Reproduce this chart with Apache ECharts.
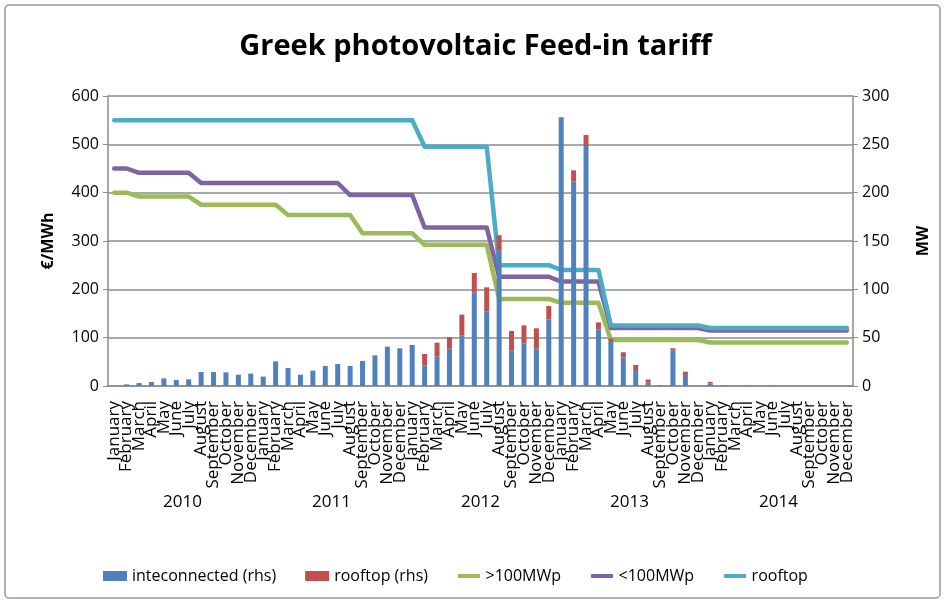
<!DOCTYPE html>
<html>
<head>
<meta charset="utf-8">
<script src="https://cdn.jsdelivr.net/npm/echarts@6/dist/echarts.min.js"></script>
<style>
html, body { margin: 0; padding: 0; background: #fff; }
#chart { width: 951px; height: 605px; }
</style>
</head>
<body>
<div id="chart"></div>
<script>
// categories
const months = ['January', 'February', 'March', 'April', 'May', 'June', 'July',
    'August', 'September', 'October', 'November', 'December'];
const years = ['2010', '2011', '2012', '2013', '2014'];

// MW (right axis), Jan 2010 .. Dec 2014
const interconnected = [
    0, 1.7, 3.1, 4.1, 7.9, 6.2, 6.9, 14.5, 14.5, 14.1, 11.7, 12.8,
    9.7, 25.5, 18.6, 11.7, 15.9, 20.7, 22.8, 20.7, 25.9, 31.7, 40.7, 39,
    42.4, 21.4, 30.3, 39, 52.4, 96.9, 76.9, 140, 36.6, 44.1, 39, 69,
    278, 211.4, 248.3, 58.6, 46, 29.7, 16.6, 3.4, 0, 36.6, 11.4, 0,
    2.8, 0.6, 0, 0, 0, 0, 0, 0, 0, 0, 0, 0
];
const rooftopMW = [
    0, 0, 0, 0, 0, 0, 0, 0, 0, 0, 0, 0,
    0, 0, 0, 0, 0, 0, 0, 0, 0, 0, 0, 0,
    0, 11.7, 14.5, 11.7, 21.4, 20, 25.2, 16, 20.3, 18.6, 20.7, 13.8,
    0, 11.7, 11.4, 7.2, 3, 5.2, 5.2, 3.4, 0.7, 2.4, 3.4, 0,
    1.4, 0, 0.3, 0.3, 0.3, 0.3, 0.3, 0, 0, 0, 0, 0
];

// €/MWh (left axis)
const over100 = [
    400, 400, 392, 392, 392, 392, 392, 375, 375, 375, 375, 375,
    375, 375, 354, 354, 354, 354, 354, 354, 316, 316, 316, 316,
    316, 292, 292, 292, 292, 292, 292, 180, 180, 180, 180, 180,
    172, 172, 172, 172, 95, 95, 95, 95, 95, 95, 95, 95,
    90, 90, 90, 90, 90, 90, 90, 90, 90, 90, 90, 90
];
const under100 = [
    450, 450, 441, 441, 441, 441, 441, 420, 420, 420, 420, 420,
    420, 420, 420, 420, 420, 420, 420, 395, 395, 395, 395, 395,
    395, 328, 328, 328, 328, 328, 328, 226, 226, 226, 226, 226,
    216, 216, 216, 216, 120, 120, 120, 120, 120, 120, 120, 120,
    115, 115, 115, 115, 115, 115, 115, 115, 115, 115, 115, 115
];
const rooftopTariff = [
    550, 550, 550, 550, 550, 550, 550, 550, 550, 550, 550, 550,
    550, 550, 550, 550, 550, 550, 550, 550, 550, 550, 550, 550,
    550, 495, 495, 495, 495, 495, 495, 250, 250, 250, 250, 250,
    240, 240, 240, 240, 125, 125, 125, 125, 125, 125, 125, 125,
    120, 120, 120, 120, 120, 120, 120, 120, 120, 120, 120, 120
];

const categories = [];
years.forEach(y => months.forEach(m => categories.push(m + ' ' + y)));

const font = 'Open Sans';
const gridColor = '#8c8c8c';
// thick line centred in a 24x10 legend box
const lineIcon = 'path://M0,0L0.01,0M1,3L23,3L23,7L1,7ZM0,10L0.01,10';

const chart = echarts.init(document.getElementById('chart'));
chart.setOption({
    animation: false,
    backgroundColor: '#fff',
    title: {
        text: 'Greek photovoltaic Feed-in tariff',
        left: 'center',
        top: 27,
        textStyle: { fontFamily: font, fontSize: 29, fontWeight: 'bold', color: '#000' }
    },
    graphic: [{
        type: 'rect',
        shape: { x: 5, y: 5, width: 935, height: 593, r: 4 },
        style: { fill: 'none', stroke: '#999', lineWidth: 1.5 },
        silent: true
    }],
    grid: { left: 108, right: 98, top: 96, bottom: 219 },
    legend: {
        left: 98,
        top: 563,
        itemGap: 29,
        itemWidth: 24,
        itemHeight: 10,
        textStyle: { fontFamily: font, fontSize: 16, color: '#000' },
        data: [
            { name: 'inteconnected (rhs)', icon: 'rect' },
            { name: 'rooftop (rhs)', icon: 'rect' },
            { name: '>100MWp', icon: lineIcon },
            { name: '<100MWp', icon: lineIcon },
            { name: 'rooftop', icon: lineIcon }
        ]
    },
    xAxis: [{
        type: 'category',
        data: categories,
        position: 'bottom',
        axisLine: { lineStyle: { color: gridColor, width: 1.5 } },
        axisTick: { interval: 0, length: 114, lineStyle: { color: '#aaa' } },
        axisLabel: {
            interval: 0, rotate: 90, margin: 15,
            fontFamily: font, fontSize: 17, color: '#000',
            formatter: v => v.split(' ')[0]
        }
    }, {
        type: 'category',
        data: years,
        position: 'bottom',
        offset: 0,
        axisLine: { show: false },
        axisTick: { interval: 0, length: 132, lineStyle: { color: '#aaa' } },
        axisLabel: { margin: 108, fontFamily: font, fontSize: 17, color: '#000' }
    }],
    yAxis: [{
        type: 'value',
        position: 'left',
        min: 0, max: 600, interval: 100,
        name: '€/MWh',
        nameLocation: 'middle',
        nameRotate: 90,
        nameGap: 52,
        nameTextStyle: { fontFamily: font, fontSize: 16, fontWeight: 'bold', color: '#000' },
        axisLine: { show: true, lineStyle: { color: gridColor, width: 1.5 } },
        axisTick: { show: true, length: 5, lineStyle: { color: gridColor } },
        axisLabel: { fontFamily: font, fontSize: 16, color: '#000', margin: 9 },
        splitLine: { lineStyle: { color: gridColor, width: 1.5 } }
    }, {
        type: 'value',
        position: 'right',
        min: 0, max: 300, interval: 50,
        name: 'MW',
        nameLocation: 'middle',
        nameRotate: 90,
        nameGap: 62,
        nameTextStyle: { fontFamily: font, fontSize: 16, fontWeight: 'bold', color: '#000' },
        axisLine: { show: true, lineStyle: { color: gridColor, width: 1.5 } },
        axisTick: { show: true, length: 5, lineStyle: { color: gridColor } },
        axisLabel: { fontFamily: font, fontSize: 16, color: '#000', margin: 9 },
        splitLine: { show: false }
    }],
    series: [
        {
            name: 'inteconnected (rhs)', type: 'bar', stack: 'mw', yAxisIndex: 1,
            barWidth: 5, z: 3, data: interconnected,
            itemStyle: { color: '#4f81bd' }
        },
        {
            name: 'rooftop (rhs)', type: 'bar', stack: 'mw', yAxisIndex: 1,
            barWidth: 5, z: 3, data: rooftopMW,
            itemStyle: { color: '#c0504d' }
        },
        {
            name: '>100MWp', type: 'line', yAxisIndex: 0, symbol: 'none', z: 2,
            data: over100, itemStyle: { color: '#9bbb59' },
            lineStyle: { color: '#9bbb59', width: 4.5, cap: 'round', join: 'round' }
        },
        {
            name: '<100MWp', type: 'line', yAxisIndex: 0, symbol: 'none', z: 2,
            data: under100, itemStyle: { color: '#8064a2' },
            lineStyle: { color: '#8064a2', width: 4.5, cap: 'round', join: 'round' }
        },
        {
            name: 'rooftop', type: 'line', yAxisIndex: 0, symbol: 'none', z: 2,
            data: rooftopTariff, itemStyle: { color: '#4bacc6' },
            lineStyle: { color: '#4bacc6', width: 4.5, cap: 'round', join: 'round' }
        }
    ]
});
</script>
</body>
</html>
